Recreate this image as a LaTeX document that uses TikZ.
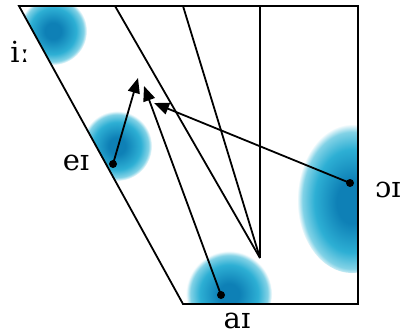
\documentclass[tikz,border=0pt]{standalone}
\usepackage{fontspec}
\setmainfont{DejaVu Serif}
\usetikzlibrary{arrows.meta}
\definecolor{blobdark}{RGB}{14,128,182}
\definecolor{blobmid}{RGB}{45,175,212}
\definecolor{blobpale}{RGB}{130,210,230}
\pgfdeclareradialshading{blobshade}{\pgfpoint{0bp}{0bp}}{color(0bp)=(blobdark); color(6bp)=(blobdark); color(17bp)=(blobmid); color(22.5bp)=(blobpale); color(25bp)=(white); color(50bp)=(white)}
\pgfdeclareradialshading{blobshadeR}{\pgfpoint{0bp}{-2bp}}{color(0bp)=(blobdark); color(7bp)=(blobdark); color(17bp)=(blobmid); color(22.5bp)=(blobpale); color(25bp)=(white); color(50bp)=(white)}
\tikzset{
  edge/.style={line width=1.8pt},
  dotnode/.style={circle,fill=black,inner sep=0pt,minimum size=8pt},
  arr/.style={line width=1.8pt,-{Triangle[length=15pt,width=12pt]}},
  lab/.style={font=\fontsize{29}{34}\selectfont,inner sep=0pt}
}
\begin{document}
\begin{tikzpicture}[x=1pt,y=-1pt]
\useasboundingbox (0,0) rectangle (407,334);
\fill[white] (0,0) rectangle (407,334);
\coordinate (TL) at (19,6);
\coordinate (TR) at (358,6);
\coordinate (BR) at (358,304);
\coordinate (BL) at (183,304);
\coordinate (A) at (115,6);
\coordinate (B) at (183,6);
\coordinate (C) at (260,6);
\coordinate (V) at (260,258);
\begin{scope}
\clip (TL) -- (TR) -- (BR) -- (BL) -- cycle;
\shade[shading=blobshade] (53,31) circle (34pt);
\shade[shading=blobshade] (117,146) circle (35pt);
\shade[shading=blobshade] (229,294) circle (43pt);
\shade[shading=blobshadeR] (352,197) ellipse [x radius=55pt, y radius=76pt];
\end{scope}
\draw[edge] (TL) -- (TR) -- (BR) -- (BL) -- cycle;
\draw[edge] (A) -- (V);
\draw[edge] (B) -- (V);
\draw[edge] (C) -- (V);
\node[dotnode] (dei) at (113,164) {};
\node[dotnode] (dai) at (221,295) {};
\node[dotnode] (doi) at (350,183) {};
\coordinate (t1) at (138,78);
\coordinate (t2) at (144,86);
\coordinate (t3) at (154,103);
\draw[arr] (dei.center) -- (t1);
\draw[arr] (dai.center) -- (t2);
\draw[arr] (doi.center) -- (t3);
\node[lab] (lii) at (20,52) {iː};
\node[lab] (lei) at (76,163) {eɪ};
\node[lab] (lai) at (237,321) {aɪ};
\node[lab] (loi) at (388,190) {ɔɪ};
\end{tikzpicture}
\end{document}
